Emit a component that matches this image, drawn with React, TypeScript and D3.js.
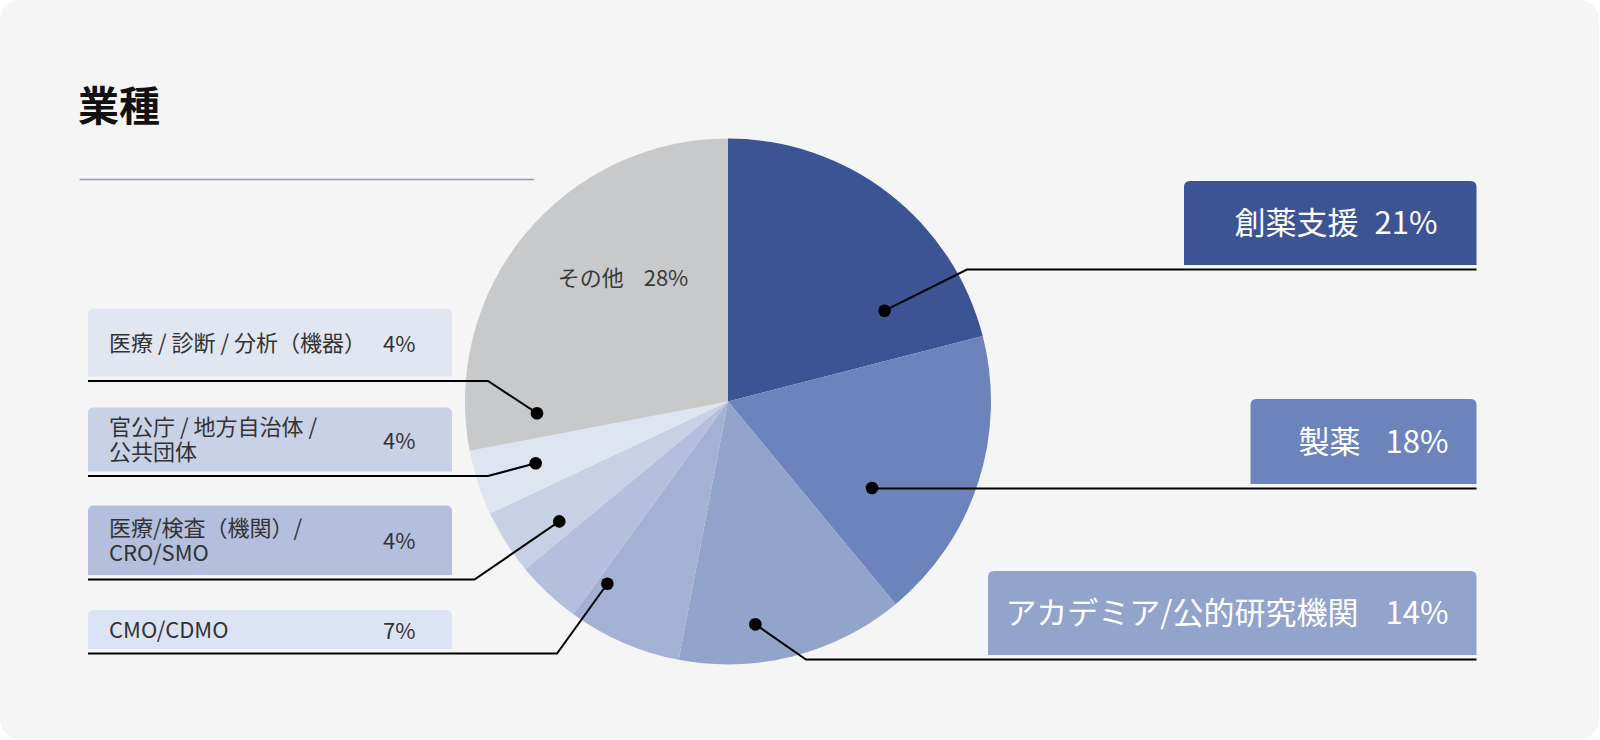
import * as d3 from 'd3';

const WIDTH = 1600;
const HEIGHT = 740;
const FONT = '"Noto Sans CJK JP", "Noto Sans", sans-serif';

// slices, clockwise from 12 o'clock
const categories = [
    '創薬支援',
    '製薬',
    'アカデミア/公的研究機関',
    'CMO/CDMO',
    '医療/検査（機関）/ CRO/SMO',
    '官公庁 / 地方自治体 / 公共団体',
    '医療 / 診断 / 分析（機器）',
    'その他',
];
const labelLines = [
    ['創薬支援'],
    ['製薬'],
    ['アカデミア/公的研究機関'],
    ['CMO/CDMO'],
    ['医療/検査（機関）/', 'CRO/SMO'],
    ['官公庁 / 地方自治体 /', '公共団体'],
    ['医療 / 診断 / 分析（機器）'],
    ['その他'],
];
const shares = [21, 18, 14, 7, 4, 4, 4, 28];
const sliceColours = [
    '#3d5494',
    '#6c84bb',
    '#92a4cb',
    '#a3b1d5',
    '#b4bfdd',
    '#c8d0e6',
    '#dfe4f1',
    '#c8c9cb',
];

interface Callout {
    index: number;
    side: 'left' | 'right';
    box: { x: number; y: number; w: number; h: number };
    fill: string;
    elbowX: number | null;
    dotShift: number; // degrees past the slice middle
    dotRadius: number; // px from pie centre
    textPad?: number;
    gap?: number;
}

const callouts: Callout[] = [
    { index: 0, side: 'right', box: { x: 1184, y: 181, w: 292.5, h: 84 }, fill: '#3d5494', elbowX: 967, dotShift: 22.1, dotRadius: 181, textPad: 39, gap: 16 },
    { index: 1, side: 'right', box: { x: 1250.5, y: 399, w: 226, h: 85 }, fill: '#6c84bb', elbowX: null, dotShift: 13, dotRadius: 168, textPad: 28, gap: 25 },
    { index: 2, side: 'right', box: { x: 988, y: 571, w: 488.5, h: 84 }, fill: '#92a4cb', elbowX: 806, dotShift: 7.4, dotRadius: 224.5, textPad: 28, gap: 27 },
    { index: 3, side: 'left', box: { x: 88, y: 610, w: 364, h: 39 }, fill: '#dce3f4', elbowX: 557, dotShift: 10.1, dotRadius: 218.6 },
    { index: 4, side: 'left', box: { x: 88, y: 505.5, w: 364, h: 69.5 }, fill: '#b4bfdd', elbowX: 474.5, dotShift: 11.4, dotRadius: 207 },
    { index: 5, side: 'left', box: { x: 88, y: 407.5, w: 364, h: 64 }, fill: '#c9d1e7', elbowX: 488, dotShift: 14.6, dotRadius: 202 },
    { index: 6, side: 'left', box: { x: 88, y: 308.5, w: 364, h: 68 }, fill: '#e1e6f1', elbowX: 488, dotShift: 14.5, dotRadius: 191.4 },
];

const CX = 728;
const CY = 401.5;
const RADIUS = 263;

const toRad = (deg: number) => (deg * Math.PI) / 180;

function topRounded(x: number, y: number, w: number, h: number, r: number) {
    return `M${x},${y + h}V${y + r}Q${x},${y} ${x + r},${y}H${x + w - r}Q${x + w},${y} ${x + w},${y + r}V${y + h}Z`;
}

function PieChart() {
    const arcs = d3.pie<number>().sort(null).value((d) => d)(shares);
    const arcGen = d3.arc<d3.PieArcDatum<number>>().innerRadius(0).outerRadius(RADIUS);

    const others = arcs[7];
    const othersMid = (others.startAngle + others.endAngle) / 2;
    const [ox, oy] = d3.pointRadial(othersMid + toRad(10), 162);

    return (
        <svg width={WIDTH} height={HEIGHT} viewBox={`0 0 ${WIDTH} ${HEIGHT}`} style={{ display: 'block' }}>
            <rect x={0} y={0} width={WIDTH} height={HEIGHT} fill="#ffffff" />
            <rect x={0} y={0} width={WIDTH - 1} height={HEIGHT - 1} rx={20} fill="#f5f5f5" />

            <text x={78} y={121} fontFamily={FONT} fontSize={41} fontWeight={700} fill="#111">
                業種
            </text>
            <line x1={79.5} x2={534} y1={179.5} y2={179.5} stroke="#8a9bc8" strokeWidth={1.5} />

            <g transform={`translate(${CX},${CY})`}>
                {arcs.map((a, i) => (
                    <path key={categories[i]} d={arcGen(a) ?? ''} fill={sliceColours[i]} />
                ))}
                <text
                    x={ox}
                    y={oy + 8}
                    textAnchor="middle"
                    fontFamily={FONT}
                    fontSize={22}
                    fill="#3a3a3a"
                >
                    {labelLines[7][0]}
                    <tspan dx={20}>{`${shares[7]}%`}</tspan>
                </text>
            </g>

            {callouts.map((c) => {
                const a = arcs[c.index];
                const mid = (a.startAngle + a.endAngle) / 2 + toRad(c.dotShift);
                const [dx, dy] = d3.pointRadial(mid, c.dotRadius);
                const dotX = CX + dx;
                const dotY = CY + dy;
                const { x, y, w, h } = c.box;
                const lineY = y + h + 4.5;
                const cy = y + h / 2;
                const pts: [number, number][] =
                    c.side === 'left'
                        ? [[x, lineY], [c.elbowX ?? dotX, lineY], [dotX, dotY]]
                        : c.elbowX === null
                          ? [[x + w, lineY], [dotX, lineY]]
                          : [[x + w, lineY], [c.elbowX, lineY], [dotX, dotY]];
                const lines = labelLines[c.index];
                return (
                    <g key={categories[c.index]}>
                        <path d={topRounded(x, y, w, h, 6)} fill={c.fill} />
                        <path d={d3.line()(pts) ?? ''} fill="none" stroke="#000" strokeWidth={2} />
                        <circle cx={dotX} cy={dotY} r={6.3} fill="#000" />
                        {c.side === 'right' ? (
                            <text
                                x={x + w - (c.textPad ?? 28)}
                                y={cy + 11}
                                textAnchor="end"
                                fontFamily={FONT}
                                fontSize={31}
                                fill="#ffffff"
                            >
                                {lines[0]}
                                <tspan dx={c.gap}>{`${shares[c.index]}%`}</tspan>
                            </text>
                        ) : (
                            <g fontFamily={FONT} fontSize={22} fill="#333">
                                <text x={x + 21} y={lines.length === 1 ? cy + 8 : cy - 4.5}>
                                    {lines.map((l, k) => (
                                        <tspan key={l} x={x + 21} dy={k === 0 ? 0 : 25}>
                                            {l}
                                        </tspan>
                                    ))}
                                </text>
                                <text x={x + 295} y={cy + 9}>{`${shares[c.index]}%`}</text>
                            </g>
                        )}
                    </g>
                );
            })}
        </svg>
    );
}

export default function App() {
    return (
        <div style={{ position: 'absolute', left: 0, top: 0 }}>
            <PieChart />
        </div>
    );
}
